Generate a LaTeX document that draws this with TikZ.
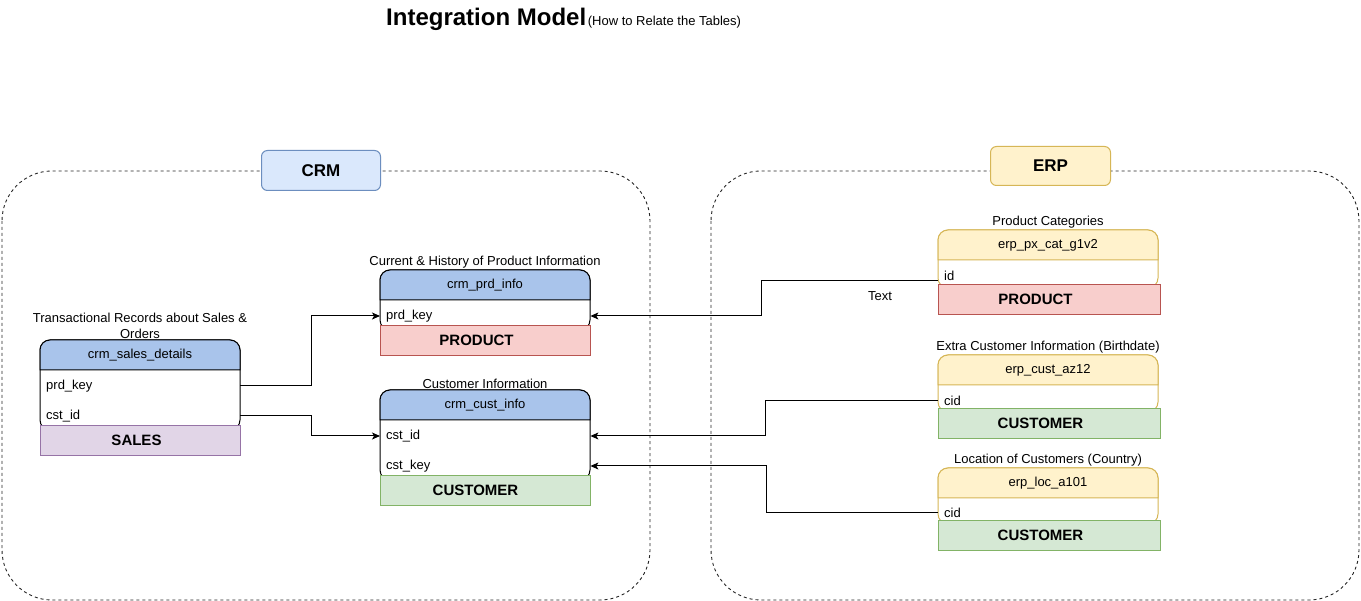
\documentclass[tikz,border=0pt]{standalone}
\usepackage{fontspec}
\setmainfont{Liberation Sans}
\usetikzlibrary{arrows.meta}
\definecolor{crmhead}{HTML}{A9C4EB}
\definecolor{crmlblfill}{HTML}{DAE8FC}
\definecolor{crmlbldraw}{HTML}{6C8EBF}
\definecolor{erpfill}{HTML}{FFF2CC}
\definecolor{erpdraw}{HTML}{D6B656}
\definecolor{prodfill}{HTML}{F8CECC}
\definecolor{proddraw}{HTML}{B85450}
\definecolor{custfill}{HTML}{D5E8D4}
\definecolor{custdraw}{HTML}{82B366}
\definecolor{salesfill}{HTML}{E1D5E7}
\definecolor{salesdraw}{HTML}{9673A6}
\newcommand\keytext[2]{#1\hspace*{#2pt}}
\tikzset{
  hdrtext/.style={font=\fontsize{13}{15}\selectfont, inner sep=0pt},
  desc/.style={font=\fontsize{13}{16}\selectfont, inner sep=1.5pt, align=center},
  rowtext/.style={font=\fontsize{13}{15}\selectfont, anchor=west, inner xsep=6pt, inner ysep=2pt, align=left},
  keybox/.style={font=\fontsize{15}{17}\selectfont\bfseries, anchor=north west, minimum height=30pt, inner sep=0pt, line width=1pt},
  container/.style={draw=black!85, dash pattern=on 3pt off 3pt, rounded corners=50pt, line width=0.9pt},
  sysbox/.style={font=\fontsize{17}{19}\selectfont\bfseries, rounded corners=6pt, line width=1pt, minimum height=40pt, inner sep=0pt},
  conn/.style={draw=black, line width=1pt, -{Stealth[length=8pt,width=7pt,inset=2pt]}},
}
% #1 name, #2 x, #3 y, #4 width, #5 body height, #6 header fill, #7 stroke, #8 header text, #9 description
\newcommand\dbtable[9]{%
  \draw[draw=#7, fill=white, line width=1pt, rounded corners=10pt] (#2,#3) rectangle (#2+#4,#3+30+#5);
  \filldraw[draw=#7, fill=#6, line width=1pt] (#2,#3+30) [rounded corners=10pt] -- (#2,#3) -- (#2+#4,#3) [sharp corners] -- (#2+#4,#3+30) -- cycle;
  \node[hdrtext] (#1-head) at (#2+#4/2,#3+15) {#8};
  \node[desc, anchor=south] (#1-desc) at (#2+#4/2,#3) {#9};
}
\begin{document}
\begin{tikzpicture}[x=1pt,y=-1pt]
\useasboundingbox[fill=white] (0,0) rectangle (1361,601);

% title
\node[anchor=base west, inner sep=0pt] (title) at (386,26)
  {{\fontsize{24}{27}\selectfont\bfseries Integration Model}\,{\fontsize{13}{15}\selectfont (How to Relate the Tables)}};

% containers
\draw[container] (2,171) rectangle (650,600);
\draw[container] (711,171) rectangle (1359,600);
\node[sysbox, draw=crmlbldraw, fill=crmlblfill, minimum width=119pt, anchor=north west] (crm) at (261,150) {CRM};
\node[sysbox, draw=erpdraw, fill=erpfill, minimum width=120pt, minimum height=39pt, anchor=north west] (erp) at (990,146) {ERP};

% CRM tables
\dbtable{sales}{40}{340}{200}{60}{crmhead}{black}{crm\_sales\_details}{Transactional Records about Sales \&\\Orders}
\node[rowtext, text width=188pt] (sales-prd) at (40,386) {prd\_key};
\node[rowtext, text width=188pt] (sales-cst) at (40,416) {cst\_id};
\node[keybox, draw=salesdraw, fill=salesfill, minimum width=200pt] (sales-key) at (40,425) {\keytext{SALES}{8}};

\dbtable{prd}{380}{270}{210}{30}{crmhead}{black}{crm\_prd\_info}{Current \& History of Product Information}
\node[rowtext, text width=198pt] (prd-prd) at (380,316) {prd\_key};
\node[keybox, draw=proddraw, fill=prodfill, minimum width=210pt] (prd-key) at (380,325) {\keytext{PRODUCT}{18}};

\dbtable{cust}{380}{390}{210}{60}{crmhead}{black}{crm\_cust\_info}{Customer Information}
\node[rowtext, text width=198pt] (cust-id) at (380,436) {cst\_id};
\node[rowtext, text width=198pt] (cust-key) at (380,466) {cst\_key};
\node[keybox, draw=custdraw, fill=custfill, minimum width=210pt] (cust-box) at (380,475) {\keytext{CUSTOMER}{20}};

% ERP tables
\dbtable{px}{938}{230}{220}{28}{erpfill}{erpdraw}{erp\_px\_cat\_g1v2}{Product Categories}
\node[rowtext, text width=208pt] (px-id) at (938,276) {id};
\node[keybox, draw=proddraw, fill=prodfill, minimum width=222pt] (px-key) at (938,284) {\keytext{PRODUCT}{28}};

\dbtable{ec}{938}{355}{220}{27}{erpfill}{erpdraw}{erp\_cust\_az12}{Extra Customer Information (Birthdate)}
\node[rowtext, text width=208pt] (ec-cid) at (938,401) {cid};
\node[keybox, draw=custdraw, fill=custfill, minimum width=222pt] (ec-key) at (938,408) {\keytext{CUSTOMER}{18}};

\dbtable{loc}{938}{468}{220}{26}{erpfill}{erpdraw}{erp\_loc\_a101}{Location of Customers (Country)}
\node[rowtext, text width=208pt] (loc-cid) at (938,513) {cid};
\node[keybox, draw=custdraw, fill=custfill, minimum width=222pt] (loc-key) at (938,520) {\keytext{CUSTOMER}{18}};

% connectors
\draw[conn] (sales-prd.east) -- ++(71,0) |- (prd-prd.west);
\draw[conn] (sales-cst.east) -- ++(71,0) |- (cust-id.west);
\draw[conn] ([yshift=-5pt]px-id.west) -- ++(-177,0) |- (prd-prd.east);
\draw[conn] (ec-cid.west) -- ++(-173,0) |- (cust-id.east);
\draw[conn] (loc-cid.west) -- ++(-172,0) |- (cust-key.east);

\node[font=\fontsize{13}{15}\selectfont, inner sep=0pt] (txt) at (880,296) {Text};
\end{tikzpicture}
\end{document}
